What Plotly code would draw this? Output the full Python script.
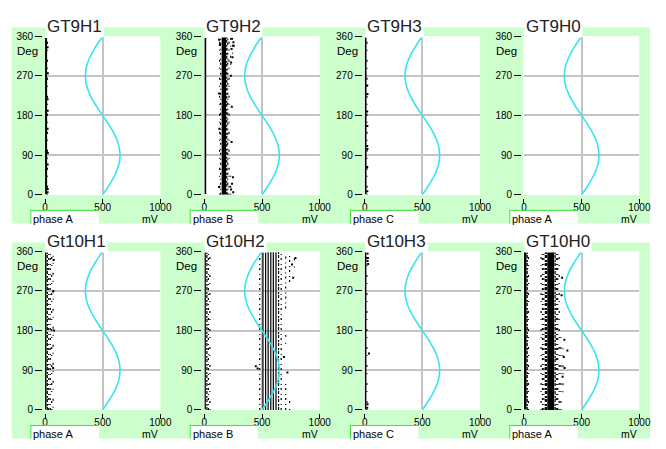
import plotly.graph_objects as go

# ---------------- data ----------------
panel_titles = ["GT9H1", "GT9H2", "GT9H3", "GT9H0", "Gt10H1", "Gt10H2", "Gt10H3", "GT10H0"]
panel_phases = ["phase A", "phase B", "phase C", "phase A", "phase A", "phase B", "phase C", "phase A"]

x_tick_vals = [0, 500, 1000]
x_tick_text = ["0", "500", "1000"]
y_tick_vals = [0, 90, 180, 270, 360]
y_tick_text = ["0", "90", "180", "270", "360"]
x_unit = "mV"
y_unit = "Deg"

# reference phase sine (mV) read every 15 degrees
ref_deg = [0, 15, 30, 45, 60, 75, 90, 105, 120, 135, 150, 165, 180,
           195, 210, 225, 240, 255, 270, 285, 300, 315, 330, 345, 360]
ref_mv = [500, 539, 575, 606, 630, 645, 650, 645, 630, 606, 575, 539, 500,
          461, 425, 394, 370, 355, 350, 355, 370, 394, 425, 461, 500]

# dense pulse bands: amplitude low/high (mV), phase from/to (deg)
gt9h1_band_lo, gt9h1_band_hi = [0], [18]
gt9h1_band_from, gt9h1_band_to = [1], [356]
gt9h2_band_lo, gt9h2_band_hi = [0, 150], [16, 188]
gt9h2_band_from, gt9h2_band_to = [1, 0], [356, 360]
gt9h3_band_lo, gt9h3_band_hi = [0], [16]
gt9h3_band_from, gt9h3_band_to = [1], [357]
gt9h0_band_lo, gt9h0_band_hi = [], []
gt9h0_band_from, gt9h0_band_to = [], []
gt10h1_band_lo, gt10h1_band_hi = [0], [13]
gt10h1_band_from, gt10h1_band_to = [1], [358]
gt10h2_band_lo, gt10h2_band_hi = [0], [13]
gt10h2_band_from, gt10h2_band_to = [1], [358]
gt10h3_band_lo, gt10h3_band_hi = [0], [15]
gt10h3_band_from, gt10h3_band_to = [1], [358]
gt10h0_band_lo, gt10h0_band_hi = [0, 202], [22, 262]
gt10h0_band_from, gt10h0_band_to = [1, 0], [358, 360]

# pulse streaks: amplitude (mV), phase from/to (deg), pulse density 1 (sparse) .. 4 (continuous)
gt9h1_streak_mv = [21]
gt9h1_streak_from = [0]
gt9h1_streak_to = [356]
gt9h1_streak_density = [1]

gt9h2_streak_mv = [132, 141, 194, 203, 214, 228, 228, 245]
gt9h2_streak_from = [0, 0, 0, 0, 0, 295, 0, 320]
gt9h2_streak_to = [360, 360, 360, 360, 360, 360, 50, 360]
gt9h2_streak_density = [1, 2, 3, 2, 1, 1, 1, 1]

gt9h3_streak_mv = [20]
gt9h3_streak_from = [0]
gt9h3_streak_to = [357]
gt9h3_streak_density = [1]

gt9h0_streak_mv, gt9h0_streak_from, gt9h0_streak_to, gt9h0_streak_density = [], [], [], []

gt10h1_streak_mv = [20, 32, 45, 58, 70]
gt10h1_streak_from = [0, 0, 0, 0, 5]
gt10h1_streak_to = [358, 358, 358, 355, 350]
gt10h1_streak_density = [3, 2, 2, 1, 1]

gt10h2_streak_mv = [22, 35, 48, 480, 508, 531, 553, 576, 598, 621, 643, 666,
                    705, 705, 705, 739, 739, 781]
gt10h2_streak_from = [0, 0, 0, 0, 0, 0, 0, 0, 0, 0, 0, 0,
                      230, 0, 150, 290, 0, 323]
gt10h2_streak_to = [358, 358, 358, 358, 358, 358, 358, 358, 358, 358, 358, 358,
                    355, 65, 170, 355, 40, 350]
gt10h2_streak_density = [3, 2, 1, 2, 4, 4, 4, 4, 4, 4, 3, 2,
                         2, 2, 1, 2, 1, 1]

gt10h3_streak_mv = [19]
gt10h3_streak_from = [0]
gt10h3_streak_to = [358]
gt10h3_streak_density = [1]

gt10h0_streak_mv = [28, 38, 148, 160, 172, 185, 194, 270, 280, 292, 305, 320, 338]
gt10h0_streak_from = [0, 0, 0, 0, 0, 0, 0, 0, 0, 0, 0, 0, 40]
gt10h0_streak_to = [358, 356, 355, 358, 360, 360, 360, 360, 360, 358, 355, 170, 140]
gt10h0_streak_density = [3, 1, 1, 2, 2, 3, 3, 3, 2, 2, 1, 1, 1]

# isolated pulses
gt9h1_dot_mv = [22, 24, 22, 23, 22, 24, 22, 23, 22]
gt9h1_dot_deg = [335, 276, 217, 191, 150, 95, 69, 13, 6]
gt9h2_dot_mv = [128, 135, 240, 252, 236, 255, 232, 244, 230, 126, 238, 130, 236, 248, 240, 232, 250, 128]
gt9h2_dot_deg = [352, 340, 354, 346, 331, 338, 300, 312, 270, 230, 200, 150, 120, 40, 25, 12, 6, 18]
gt9h3_dot_mv = [22, 24, 22, 23, 22, 24, 22, 23]
gt9h3_dot_deg = [248, 229, 189, 156, 111, 104, 63, 8]
gt9h0_dot_mv, gt9h0_dot_deg = [], []
gt10h1_dot_mv = [75, 72, 78, 70]
gt10h1_dot_deg = [340, 270, 180, 95]
gt10h2_dot_mv = [446, 462, 790, 760, 770, 690, 720]
gt10h2_dot_deg = [99, 94, 345, 330, 300, 120, 85]
gt10h3_dot_mv = [25, 28, 25, 30, 37, 25, 22]
gt10h3_dot_deg = [355, 345, 338, 331, 128, 13, 5]
gt10h0_dot_mv = [350, 376, 345, 352, 335, 330, 326]
gt10h0_dot_deg = [159, 135, 120, 95, 75, 300, 260]

panel_bands = [
    (gt9h1_band_lo, gt9h1_band_hi, gt9h1_band_from, gt9h1_band_to),
    (gt9h2_band_lo, gt9h2_band_hi, gt9h2_band_from, gt9h2_band_to),
    (gt9h3_band_lo, gt9h3_band_hi, gt9h3_band_from, gt9h3_band_to),
    (gt9h0_band_lo, gt9h0_band_hi, gt9h0_band_from, gt9h0_band_to),
    (gt10h1_band_lo, gt10h1_band_hi, gt10h1_band_from, gt10h1_band_to),
    (gt10h2_band_lo, gt10h2_band_hi, gt10h2_band_from, gt10h2_band_to),
    (gt10h3_band_lo, gt10h3_band_hi, gt10h3_band_from, gt10h3_band_to),
    (gt10h0_band_lo, gt10h0_band_hi, gt10h0_band_from, gt10h0_band_to),
]
panel_streaks = [
    (gt9h1_streak_mv, gt9h1_streak_from, gt9h1_streak_to, gt9h1_streak_density),
    (gt9h2_streak_mv, gt9h2_streak_from, gt9h2_streak_to, gt9h2_streak_density),
    (gt9h3_streak_mv, gt9h3_streak_from, gt9h3_streak_to, gt9h3_streak_density),
    (gt9h0_streak_mv, gt9h0_streak_from, gt9h0_streak_to, gt9h0_streak_density),
    (gt10h1_streak_mv, gt10h1_streak_from, gt10h1_streak_to, gt10h1_streak_density),
    (gt10h2_streak_mv, gt10h2_streak_from, gt10h2_streak_to, gt10h2_streak_density),
    (gt10h3_streak_mv, gt10h3_streak_from, gt10h3_streak_to, gt10h3_streak_density),
    (gt10h0_streak_mv, gt10h0_streak_from, gt10h0_streak_to, gt10h0_streak_density),
]
panel_dots = [
    (gt9h1_dot_mv, gt9h1_dot_deg), (gt9h2_dot_mv, gt9h2_dot_deg),
    (gt9h3_dot_mv, gt9h3_dot_deg), (gt9h0_dot_mv, gt9h0_dot_deg),
    (gt10h1_dot_mv, gt10h1_dot_deg), (gt10h2_dot_mv, gt10h2_dot_deg),
    (gt10h3_dot_mv, gt10h3_dot_deg), (gt10h0_dot_mv, gt10h0_dot_deg),
]

# ---------------- styles / geometry ----------------
W, H = 666, 449
PLOT_LEFT = [43, 206, 370, 533]
PLOT_W = 118
PLOT_TOP = [31, 252]
PLOT_H = 163
GREEN = "#ccffcc"
BRIGHT_GREEN = "#3ee03e"
GRID = "#c4c4c4"
CYAN = "#36e4f4"
FONT = "Liberation Sans, Arial, sans-serif"
DENSITY_DASH = {1: "1px,6px,2px,9px", 2: "2px,3px,1px,4px", 3: "3px,1px,2px,2px", 4: "solid"}


def px(x):
    return x / W


def py(y):
    return 1 - y / H


fig = go.Figure()
shapes, annotations, axes = [], [], {}

# green panel backgrounds (one per row)
for r in range(2):
    top = PLOT_TOP[r]
    shapes.append(dict(type="rect", xref="paper", yref="paper", layer="below",
                       x0=px(9), x1=px(662), y0=py(top - 9), y1=py(top + PLOT_H + 29.5),
                       fillcolor=GREEN, line=dict(width=0)))

for i, title in enumerate(panel_titles):
    r, c = divmod(i, 4)
    n = i + 1
    xa = "x" if n == 1 else f"x{n}"
    ya = "y" if n == 1 else f"y{n}"
    left = PLOT_LEFT[c]
    right = left + PLOT_W
    top = PLOT_TOP[r]
    bottom = top + PLOT_H

    axes["xaxis" if n == 1 else f"xaxis{n}"] = dict(
        domain=[px(left), px(right)], range=[0, 1000], anchor="free", position=py(bottom + 3),
        tickmode="array", tickvals=x_tick_vals, ticktext=x_tick_text,
        ticks="outside", ticklen=5, tickwidth=1, tickcolor="#000", ticklabelstandoff=-5,
        tickfont=dict(family=FONT, size=10, color="#000"),
        showgrid=True, gridcolor=GRID, gridwidth=1.5,
        zeroline=True, zerolinecolor="white", zerolinewidth=1,
        showline=False, fixedrange=True)
    axes["yaxis" if n == 1 else f"yaxis{n}"] = dict(
        domain=[py(bottom), py(top)], range=[0, 360], anchor="free", position=px(left - 3),
        tickmode="array", tickvals=y_tick_vals, ticktext=y_tick_text,
        ticks="outside", ticklen=7, tickwidth=1, tickcolor="#000",
        tickfont=dict(family=FONT, size=10, color="#000"),
        showgrid=True, gridcolor=GRID, gridwidth=1.5,
        zeroline=True, zerolinecolor="white", zerolinewidth=1,
        showline=False, fixedrange=True)

    # white plot area
    shapes.append(dict(type="rect", xref=f"{xa} domain", yref=f"{ya} domain", layer="below",
                       x0=0, x1=1, y0=0, y1=1, fillcolor="white", line=dict(width=0)))

    # dense bands
    lo, hi, dfrom, dto = panel_bands[i]
    bx, by = [], []
    for a, b, f, t in zip(lo, hi, dfrom, dto):
        bx += [a, b, b, a, a, None]
        by += [f, f, t, t, f, None]
    if bx:
        fig.add_trace(go.Scatter(x=bx, y=by, mode="lines", fill="toself", fillcolor="#000",
                                 line=dict(width=0, color="#000"), xaxis=xa, yaxis=ya,
                                 hoverinfo="skip"))

    # streaks grouped by density
    smv, sf, st, sd = panel_streaks[i]
    for dens in (1, 2, 3, 4):
        sx, sy = [], []
        for m, f, t, d in zip(smv, sf, st, sd):
            if d == dens:
                sx += [m, m, None]
                sy += [f, t, None]
        if sx:
            fig.add_trace(go.Scatter(x=sx, y=sy, mode="lines",
                                     line=dict(color="#000", width=1.2, dash=DENSITY_DASH[dens]),
                                     xaxis=xa, yaxis=ya, hoverinfo="skip"))

    # isolated pulses
    dmv, ddeg = panel_dots[i]
    if dmv:
        fig.add_trace(go.Scatter(x=dmv, y=ddeg, mode="markers",
                                 marker=dict(symbol="square", size=2, color="#000", line=dict(width=0)),
                                 xaxis=xa, yaxis=ya, hoverinfo="skip"))

    # reference sine
    fig.add_trace(go.Scatter(x=ref_mv, y=ref_deg, mode="lines",
                             line=dict(color=CYAN, width=1.6, shape="spline", smoothing=1.0),
                             xaxis=xa, yaxis=ya, hoverinfo="skip"))

    # title box
    annotations.append(dict(text=title, x=px(left), y=py(top), xref="paper", yref="paper",
                            xanchor="left", yanchor="bottom", yshift=-2, showarrow=False,
                            bgcolor="white", borderpad=1,
                            font=dict(family=FONT, size=17, color="#222")))
    # unit labels
    annotations.append(dict(text=y_unit, x=px(left - 18), y=py(top + 15), xref="paper", yref="paper",
                            xanchor="center", yanchor="middle", showarrow=False,
                            font=dict(family=FONT, size=11.5, color="#000")))
    annotations.append(dict(text=x_unit, x=px(right), y=py(bottom + 24.5), xref="paper", yref="paper",
                            xanchor="right", yanchor="middle", showarrow=False,
                            font=dict(family=FONT, size=10.5, color="#000")))
    # phase label box
    bx0, bx1, by0, by1 = left - 15, left + 55, bottom + 16, bottom + 29.5
    shapes.append(dict(type="rect", xref="paper", yref="paper", layer="above",
                       x0=px(bx0), x1=px(bx1), y0=py(by1), y1=py(by0),
                       fillcolor="white", line=dict(width=0)))
    shapes.append(dict(type="line", xref="paper", yref="paper", layer="above",
                       x0=px(bx0), x1=px(bx1), y0=py(by0), y1=py(by0),
                       line=dict(color=BRIGHT_GREEN, width=1)))
    shapes.append(dict(type="line", xref="paper", yref="paper", layer="above",
                       x0=px(bx0 + 0.5), x1=px(bx0 + 0.5), y0=py(by0), y1=py(by1),
                       line=dict(color=BRIGHT_GREEN, width=1)))
    annotations.append(dict(text=panel_phases[i], x=px(bx0 + 1), y=py(bottom + 24.5), xref="paper",
                            yref="paper", xanchor="left", yanchor="middle", showarrow=False,
                            font=dict(family=FONT, size=11, color="#000")))

fig.update_layout(
    width=W, height=H, margin=dict(l=0, r=0, t=0, b=0),
    paper_bgcolor="white", plot_bgcolor="white", showlegend=False,
    shapes=shapes, annotations=annotations, **axes)

fig.write_html("out.html", config={"displayModeBar": False},
               post_script="document.body.style.margin='0';document.body.style.overflow='hidden';")
